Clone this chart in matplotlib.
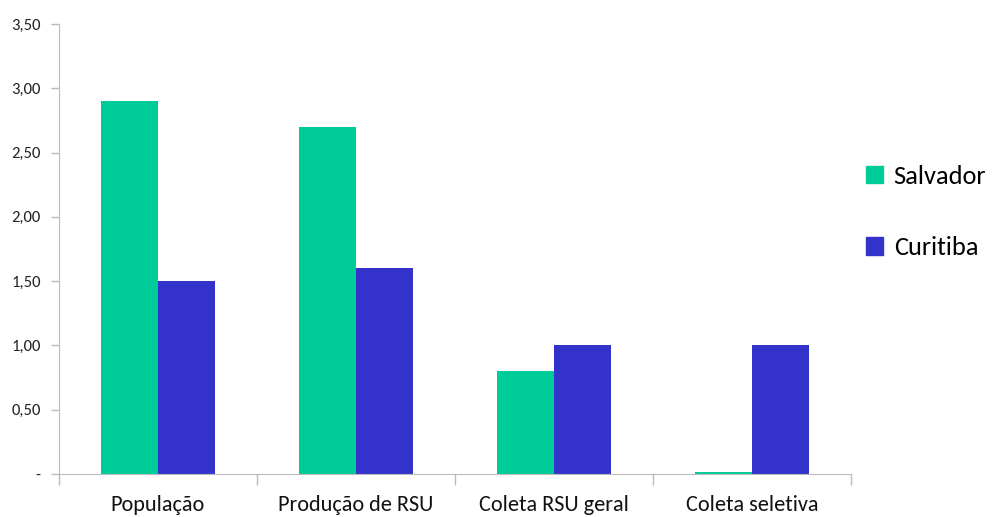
import matplotlib
matplotlib.use("Agg")
import matplotlib.pyplot as plt
import numpy as np
from matplotlib.patches import Patch

categories = ["População", "Produção de RSU", "Coleta RSU geral", "Coleta seletiva"]
salvador = [2.90, 2.70, 0.80, 0.015]
curitiba = [1.50, 1.60, 1.00, 1.00]
yticks = [0, 0.5, 1.0, 1.5, 2.0, 2.5, 3.0, 3.5]
ytick_labels = ["-", "0,50", "1,00", "1,50", "2,00", "2,50", "3,00", "3,50"]

plt.rcParams['font.family'] = ['Carlito', 'Liberation Sans Narrow', 'Lato', 'DejaVu Sans']

green = "#00CC99"
blue = "#3333CC"

fig = plt.figure(figsize=(10.06, 5.17), dpi=100)
W, H = 1006, 517
ax = fig.add_axes([59 / W, (H - 474) / H, (851 - 59) / W, (474 - 24) / H])

x = np.arange(len(categories))
bw = 0.286
ax.bar(x - bw / 2, salvador, bw, color=green, label="Salvador")
ax.bar(x + bw / 2, curitiba, bw, color=blue, label="Curitiba")

ax.set_xlim(-0.5, len(categories) - 0.5)
ax.set_ylim(0, 3.5)
ax.set_yticks(yticks)
ax.set_yticklabels(ytick_labels, fontsize=12, color="#222222")
ax.set_xticks(x)
ax.set_xticklabels(categories, fontsize=16, color="#111111")
ax.tick_params(axis='x', length=0, pad=15)
ax.set_xticks(np.arange(len(categories) + 1) - 0.5, minor=True)
ax.tick_params(axis='x', which='minor', length=8, color="#BBBBBB", width=1)
ax.tick_params(axis='y', length=6, color="#BBBBBB", width=1, pad=7)

for s in ["top", "right"]:
    ax.spines[s].set_visible(False)
ax.spines["left"].set_color("#BBBBBB")
ax.spines["bottom"].set_color("#BBBBBB")
ax.spines["left"].set_bounds(0, 3.5)

handles = [Patch(color=green), Patch(color=blue)]
fig.legend(handles, ["Salvador", "Curitiba"], loc="center left",
           bbox_to_anchor=(866 / W, 1 - 212 / H), frameon=False,
           fontsize=19, handlelength=0.65, handleheight=0.65,
           handletextpad=0.4, labelspacing=1.85, borderpad=0, borderaxespad=0)

fig.savefig("out.png", dpi=100)
